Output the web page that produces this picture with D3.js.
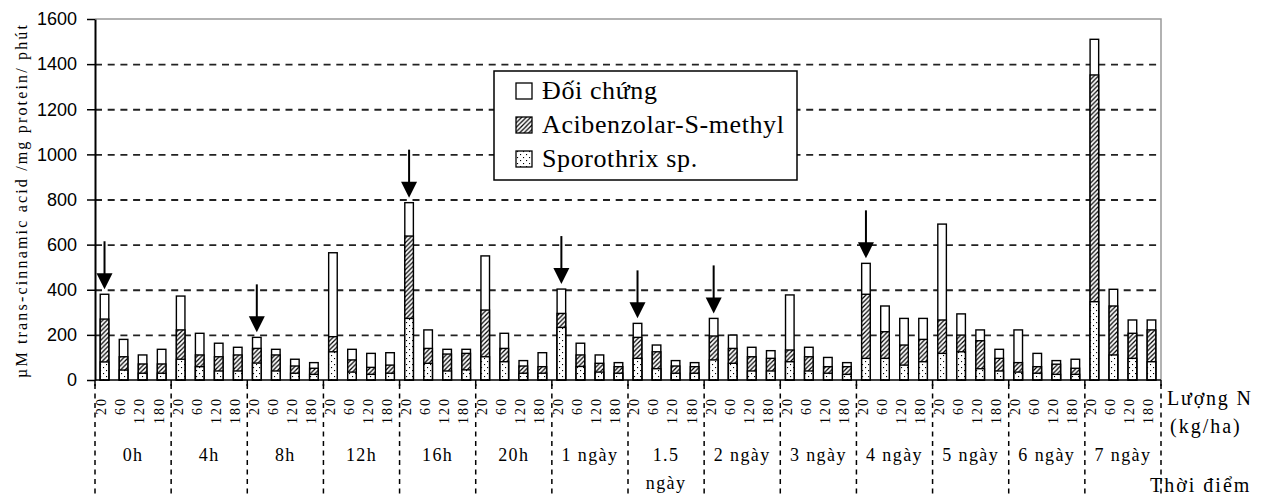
<!DOCTYPE html>
<html><head><meta charset="utf-8">
<script src="https://cdn.jsdelivr.net/npm/d3@7"></script>
<style>body{margin:0;background:#fff}</style>
</head><body><svg id="c" width="1261" height="495"></svg>
<script>
// ---- data ----
const groups = ["0h","4h","8h","12h","16h","20h","1 ngày","1.5 ngày","2 ngày","3 ngày","4 ngày","5 ngày","6 ngày","7 ngày"];
const doses = ["20","60","120","180"];
const seriesNames = ["Đối chứng","Acibenzolar-S-methyl","Sporothrix sp."];
const doiChung = [380,180,111,136, 372,207,163,145, 189,136,92,77, 564,136,118,121, 786,222,136,136, 550,207,86,121,
  403,163,111,77, 251,155,86,77, 273,199,145,130, 377,145,100,77, 517,328,273,273, 691,293,222,136, 222,118,86,92, 1510,402,266,266];
const acibenzolar = [270,103,71,71, 222,111,103,111, 140,111,62,52, 192,89,56,66, 638,140,115,118, 310,140,62,59,
  295,111,74,59, 189,125,62,59, 195,140,103,96, 133,103,59,59, 380,214,155,180, 266,199,174,96, 77,59,70,52, 1352,328,207,222];
const sporothrix = [80,44,30,30, 92,59,40,40, 75,40,30,25, 125,35,25,30, 273,74,40,45, 103,81,30,30,
  233,60,35,30, 96,50,30,30, 89,74,40,40, 81,40,30,25, 96,96,66,81, 118,125,50,40, 35,30,25,25, 347,111,96,81];
const yTicks = [0,200,400,600,800,1000,1200,1400,1600];
const arrows = [["0h","20"],["8h","20"],["16h","20"],["1 ngày","20"],["1.5 ngày","20"],["2 ngày","20"],["4 ngày","20"]];
const yTitle = "µM trans-cinnamic acid /mg protein/ phút";

// ---- layout ----
const L=95, R=1161, T=19, B=380;
const svg = d3.select("#c");
svg.append("rect").attr("width",1261).attr("height",495).attr("fill","#fff");
const y = d3.scaleLinear().domain([0,1600]).range([B,T]);
const x0 = d3.scaleBand().domain(groups).range([L,R]);
const x1 = d3.scaleBand().domain(doses).range([0,x0.bandwidth()]).paddingInner(0.55).paddingOuter(0.275);

const defs = svg.append("defs");
const hp = defs.append("pattern").attr("id","hatch").attr("patternUnits","userSpaceOnUse").attr("width",4.5).attr("height",4.5);
hp.append("rect").attr("width",4.5).attr("height",4.5).attr("fill","#fff");
hp.append("path").attr("d","M-1,1 L1,-1 M0,4.5 L4.5,0 M3.5,5.5 L5.5,3.5").attr("stroke","#000").attr("stroke-width",1.25);
const dp = defs.append("pattern").attr("id","dots").attr("patternUnits","userSpaceOnUse").attr("width",6).attr("height",6);
dp.append("rect").attr("width",6).attr("height",6).attr("fill","#fff");
dp.append("rect").attr("x",1).attr("y",1).attr("width",1.1).attr("height",1.1).attr("fill","#000");
dp.append("rect").attr("x",4).attr("y",4).attr("width",1.1).attr("height",1.1).attr("fill","#000");
const fills = ["#fff","url(#hatch)","url(#dots)"];

// gridlines
const grid = svg.append("g").attr("transform",`translate(${L},0)`)
  .call(d3.axisLeft(y).tickValues(yTicks.filter(v=>v>0&&v<1600)).tickSize(-(R-L)).tickFormat(""));
grid.select(".domain").remove();
grid.selectAll("line").attr("stroke","#222").attr("stroke-width",1.8).attr("stroke-dasharray","7,5.7");

// plot border (top/right)
svg.append("path").attr("d",`M${L},${T}H${R}V${B}`).attr("fill","none").attr("stroke","#999").attr("stroke-width",1.5);

// bars
const rows = [];
groups.forEach((g,gi)=>doses.forEach((d,di)=>{
  const i = gi*4+di;
  rows.push({g,d,vals:[doiChung[i],acibenzolar[i],sporothrix[i]]});
}));
const barG = svg.append("g");
[0,1,2].forEach(s=>{
  barG.selectAll(null).data(rows).join("rect")
    .attr("x",r=>x0(r.g)+x1(r.d)).attr("width",x1.bandwidth())
    .attr("y",r=>y(r.vals[s])).attr("height",r=>B-y(r.vals[s]))
    .attr("fill",fills[s]).attr("stroke","#000").attr("stroke-width",1.4);
});

// y axis
const ya = svg.append("g").attr("transform",`translate(${L},0)`)
  .call(d3.axisLeft(y).tickValues(yTicks).tickFormat(d3.format("d")).tickSize(8).tickPadding(10).tickSizeOuter(0));
ya.select(".domain").attr("stroke","#000").attr("stroke-width",2);
ya.selectAll("line").attr("stroke","#000").attr("stroke-width",1.5);
ya.selectAll("text").attr("font-family","Liberation Sans, Arial, sans-serif").attr("font-size",18).attr("fill","#000");

// x axis line + group ticks
svg.append("line").attr("x1",L).attr("x2",R).attr("y1",B).attr("y2",B).attr("stroke","#000").attr("stroke-width",1.5);
const bounds = groups.map(g=>x0(g)).concat([R]);
svg.selectAll(null).data(bounds).join("line")
  .attr("x1",d=>d).attr("x2",d=>d).attr("y1",B).attr("y2",B+6).attr("stroke","#000").attr("stroke-width",1.5);
svg.selectAll(null).data(bounds).join("line")
  .attr("x1",d=>d).attr("x2",d=>d).attr("y1",B+4).attr("y2",495)
  .attr("stroke","#000").attr("stroke-width",1.5).attr("stroke-dasharray","5,4.5");

// dose labels (rotated)
svg.append("g").selectAll("text").data(rows).join("text")
  .attr("transform",r=>`translate(${x0(r.g)+x1(r.d)+x1.bandwidth()/2-3},397) rotate(-90)`)
  .attr("text-anchor","end").attr("dy","0.35em")
  .attr("font-family","Liberation Serif, Times New Roman, serif").attr("font-size",14).attr("letter-spacing",2)
  .text(r=>r.d);

// group labels
groups.forEach(g=>{
  const cx = x0(g)+x0.bandwidth()/2;
  const lines = g.startsWith("1.5") ? g.split(" ") : [g];
  lines.forEach((t,k)=>{
    svg.append("text").attr("x",cx).attr("y",461+k*28).attr("text-anchor","middle")
      .attr("font-family","Liberation Serif, Times New Roman, serif").attr("font-size",18).attr("letter-spacing",1.4)
      .text(t);
  });
});

// right side titles
const ser = "Liberation Serif, Times New Roman, serif";
svg.append("text").attr("x",1167).attr("y",405).attr("font-family",ser).attr("font-size",20).attr("letter-spacing",1.8).text("Lượng N");
svg.append("text").attr("x",1170).attr("y",433).attr("font-family",ser).attr("font-size",20).attr("letter-spacing",2).text("(kg/ha)");
svg.append("text").attr("x",1150).attr("y",492).attr("font-family",ser).attr("font-size",20).attr("letter-spacing",2).text("Thời điểm");

// y title
svg.append("text").attr("transform","translate(27,201.5) rotate(-90)").attr("text-anchor","middle")
  .attr("font-family",ser).attr("font-size",16).attr("textLength",353).attr("lengthAdjust","spacing")
  .text(yTitle);

// arrows
arrows.forEach(([g,d])=>{
  const i = groups.indexOf(g)*4+doses.indexOf(d);
  const cx = x0(g)+x1(d)+x1.bandwidth()/2;
  const tip = y(doiChung[i])-5;
  svg.append("line").attr("x1",cx).attr("x2",cx).attr("y1",tip-48).attr("y2",tip-14).attr("stroke","#000").attr("stroke-width",2);
  svg.append("path").attr("d",`M${cx-8},${tip-16}L${cx+8},${tip-16}L${cx},${tip}Z`).attr("fill","#000");
});

// legend
const lg = svg.append("g");
lg.append("rect").attr("x",494).attr("y",71).attr("width",303).attr("height",109).attr("fill","#fff").attr("stroke","#000").attr("stroke-width",1.5);
seriesNames.forEach((n,k)=>{
  const by = 99+k*34;
  lg.append("rect").attr("x",516).attr("y",by-16).attr("width",16).attr("height",16).attr("fill",fills[k]).attr("stroke","#000").attr("stroke-width",1.3);
  lg.append("text").attr("x",542).attr("y",by).attr("font-family",ser).attr("font-size",26).attr("letter-spacing",0.6).text(n);
});
</script></body></html>
